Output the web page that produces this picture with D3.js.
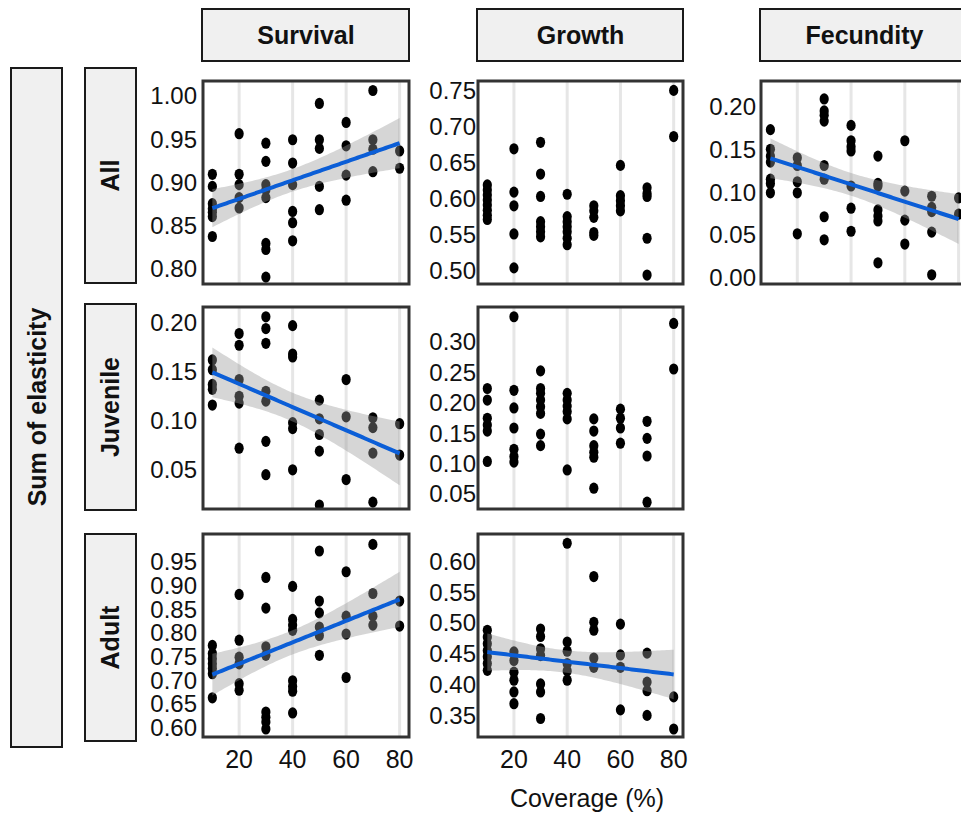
<!DOCTYPE html>
<html>
<head>
<meta charset="utf-8">
<script src="https://cdn.jsdelivr.net/npm/d3@7"></script>
<style>
  body { margin: 0; background: #fff; }
  text { font-family: "Liberation Sans", Arial, sans-serif; }
</style>
</head>
<body>
<svg id="chart"></svg>
<script>
// coverage levels (%) shared by every panel
var coverage = [10, 20, 30, 40, 50, 60, 70, 80];
var xTicks = [20, 40, 60, 80];

var colNames = ["Survival", "Growth", "Fecundity"];
var rowNames = ["All", "Juvenile", "Adult"];

// values per coverage level
var survAll = [
  [0.909, 0.895, 0.875, 0.869, 0.865, 0.860, 0.837],
  [0.956, 0.909, 0.897, 0.882, 0.870],
  [0.945, 0.924, 0.897, 0.891, 0.882, 0.829, 0.822, 0.790],
  [0.949, 0.922, 0.897, 0.866, 0.853, 0.832],
  [0.991, 0.949, 0.939, 0.895, 0.868],
  [0.969, 0.942, 0.908, 0.879],
  [1.006, 0.949, 0.938, 0.912],
  [0.936, 0.916]
];
var growthAll = [
  [0.619, 0.612, 0.605, 0.598, 0.591, 0.584, 0.577, 0.571],
  [0.669, 0.609, 0.590, 0.551, 0.504],
  [0.678, 0.634, 0.603, 0.568, 0.561, 0.554, 0.547],
  [0.606, 0.575, 0.568, 0.561, 0.554, 0.545, 0.536],
  [0.590, 0.583, 0.574, 0.553, 0.549],
  [0.646, 0.604, 0.597, 0.590, 0.583],
  [0.615, 0.607, 0.603, 0.545, 0.494],
  [0.750, 0.686]
];
var fecAll = [
  [0.173, 0.150, 0.142, 0.135, 0.115, 0.110, 0.099],
  [0.140, 0.131, 0.112, 0.099, 0.051],
  [0.209, 0.195, 0.190, 0.183, 0.131, 0.115, 0.071, 0.044],
  [0.178, 0.160, 0.153, 0.148, 0.107, 0.081, 0.054],
  [0.142, 0.110, 0.107, 0.079, 0.072, 0.066, 0.017],
  [0.160, 0.101, 0.067, 0.039],
  [0.095, 0.082, 0.077, 0.053, 0.003],
  [0.093, 0.074]
];
var survJuv = [
  [0.162, 0.152, 0.137, 0.132, 0.116],
  [0.189, 0.177, 0.142, 0.125, 0.118, 0.072],
  [0.206, 0.194, 0.179, 0.130, 0.120, 0.079, 0.045],
  [0.197, 0.168, 0.165, 0.098, 0.092, 0.050],
  [0.121, 0.102, 0.086, 0.069, 0.014],
  [0.142, 0.104, 0.040],
  [0.103, 0.093, 0.067, 0.017],
  [0.097, 0.065]
];
var growthJuv = [
  [0.223, 0.204, 0.174, 0.163, 0.153, 0.103],
  [0.341, 0.220, 0.191, 0.158, 0.123, 0.111, 0.102],
  [0.252, 0.223, 0.215, 0.204, 0.193, 0.182, 0.148, 0.129],
  [0.215, 0.204, 0.194, 0.185, 0.173, 0.089],
  [0.173, 0.153, 0.129, 0.118, 0.110, 0.059],
  [0.189, 0.174, 0.158, 0.133],
  [0.169, 0.141, 0.112, 0.036],
  [0.330, 0.255]
];
var survAdult = [
  [0.773, 0.756, 0.745, 0.734, 0.724, 0.713, 0.662],
  [0.881, 0.784, 0.748, 0.734, 0.692, 0.678],
  [0.917, 0.852, 0.770, 0.752, 0.632, 0.621, 0.611, 0.596],
  [0.898, 0.828, 0.816, 0.805, 0.698, 0.686, 0.676, 0.630],
  [0.973, 0.867, 0.842, 0.812, 0.794, 0.752],
  [0.929, 0.835, 0.797, 0.705],
  [0.987, 0.883, 0.835, 0.816],
  [0.867, 0.814]
];
var growthAdult = [
  [0.488, 0.477, 0.466, 0.455, 0.445, 0.434, 0.423],
  [0.453, 0.439, 0.420, 0.407, 0.388, 0.369],
  [0.490, 0.478, 0.458, 0.447, 0.401, 0.388, 0.345],
  [0.629, 0.469, 0.454, 0.434, 0.422, 0.407],
  [0.575, 0.501, 0.488, 0.443, 0.428],
  [0.498, 0.448, 0.428, 0.359],
  [0.451, 0.404, 0.390, 0.350],
  [0.380, 0.328]
];

// y tick labels per panel
var ticksSurvAll = [0.80, 0.85, 0.90, 0.95, 1.00];
var ticksGrowthAll = [0.50, 0.55, 0.60, 0.65, 0.70, 0.75];
var ticksFecAll = [0.00, 0.05, 0.10, 0.15, 0.20];
var ticksSurvJuv = [0.05, 0.10, 0.15, 0.20];
var ticksGrowthJuv = [0.05, 0.10, 0.15, 0.20, 0.25, 0.30];
var ticksSurvAdult = [0.60, 0.65, 0.70, 0.75, 0.80, 0.85, 0.90, 0.95];
var ticksGrowthAdult = [0.35, 0.40, 0.45, 0.50, 0.55, 0.60];

var svg = d3.select("#chart")
            .attr("width", 961)
            .attr("height", 815);

// panel frame positions
var colX = [[203, 409], [478, 683], [761, 968]];
var rowY = [[81, 284], [307, 509], [534, 737]];
var labelRight = [197, 476, 756];

var xDomain = [6.5, 83.5];

var panels = [
  {row: 0, col: 0, data: survAll, ticks: ticksSurvAll, domain: [0.782, 1.017], fit: true},
  {row: 0, col: 1, data: growthAll, ticks: ticksGrowthAll, domain: [0.4816, 0.763], fit: false},
  {row: 0, col: 2, data: fecAll, ticks: ticksFecAll, domain: [-0.0078, 0.230], fit: true},
  {row: 1, col: 0, data: survJuv, ticks: ticksSurvJuv, domain: [0.010, 0.216], fit: true},
  {row: 1, col: 1, data: growthJuv, ticks: ticksGrowthJuv, domain: [0.0248, 0.357], fit: false},
  {row: 2, col: 0, data: survAdult, ticks: ticksSurvAdult, domain: [0.579, 1.009], fit: true},
  {row: 2, col: 1, data: growthAdult, ticks: ticksGrowthAdult, domain: [0.315, 0.644], fit: true}
];

var clip = svg.append("defs");

// 95% t quantile, rough series expansion
function tQuant(df){
    var z = 1.959964;
    return z + (z*z*z + z)/(4*df) + (5*Math.pow(z,5) + 16*z*z*z + 3*z)/(96*df*df);
}

function linFit(pts){
    var n = pts.length;
    var mx = d3.mean(pts, d => d.x), my = d3.mean(pts, d => d.y);
    var sxx = d3.sum(pts, d => (d.x-mx)*(d.x-mx));
    var sxy = d3.sum(pts, d => (d.x-mx)*(d.y-my));
    var b = sxy/sxx, a = my - b*mx;
    var rss = d3.sum(pts, d => Math.pow(d.y - a - b*d.x, 2));
    var s = Math.sqrt(rss/(n-2));
    var t = tQuant(n-2);
    var lo = d3.min(pts, d => d.x), hi = d3.max(pts, d => d.x);
    var xs = d3.range(0, 81).map(i => lo + i*(hi - lo)/80);
    return xs.map(function(x){
        var fit = a + b*x;
        var se = s*Math.sqrt(1/n + (x-mx)*(x-mx)/sxx);
        return {x: x, y: fit, lo: fit - t*se, hi: fit + t*se};
    });
}

panels.forEach(function(p, k){
    var x0 = colX[p.col][0], x1 = colX[p.col][1];
    var y0 = rowY[p.row][0], y1 = rowY[p.row][1];

    var x = d3.scaleLinear().domain(xDomain).range([x0, x1]);
    var y = d3.scaleLinear().domain(p.domain).range([y1, y0]);

    var pts = [];
    p.data.forEach(function(vals, i){
        vals.forEach(function(v){ pts.push({x: coverage[i], y: v}); });
    });

    clip.append("clipPath").attr("id", "clip" + k)
        .append("rect")
        .attr("x", x0).attr("y", y0)
        .attr("width", x1 - x0).attr("height", y1 - y0);

    var g = svg.append("g");
    var inner = g.append("g").attr("clip-path", "url(#clip" + k + ")");

    // vertical grid only
    inner.selectAll(".grid")
        .data(xTicks)
        .enter()
        .append("line")
        .attr("x1", d => x(d)).attr("x2", d => x(d))
        .attr("y1", y0).attr("y2", y1)
        .attr("stroke", "#e6e6e6")
        .attr("stroke-width", 3);

    inner.selectAll(".pt")
        .data(pts)
        .enter()
        .append("ellipse")
        .attr("cx", d => x(d.x))
        .attr("cy", d => y(d.y))
        .attr("rx", 4.6)
        .attr("ry", 5.6)
        .attr("fill", "#000");

    if (p.fit){
        var line = linFit(pts);
        inner.append("path")
            .datum(line)
            .attr("d", d3.area().x(d => x(d.x)).y0(d => y(d.lo)).y1(d => y(d.hi)))
            .attr("fill", "#999999")
            .attr("fill-opacity", 0.4);
        inner.append("path")
            .datum(line)
            .attr("d", d3.line().x(d => x(d.x)).y(d => y(d.y)))
            .attr("fill", "none")
            .attr("stroke", "#0b5ed7")
            .attr("stroke-width", 4);
    }

    g.append("rect")
        .attr("x", x0).attr("y", y0)
        .attr("width", x1 - x0).attr("height", y1 - y0)
        .attr("fill", "none")
        .attr("stroke", "#333")
        .attr("stroke-width", 3);

    g.selectAll(".ytick")
        .data(p.ticks)
        .enter()
        .append("text")
        .attr("x", labelRight[p.col])
        .attr("y", d => y(d))
        .attr("dy", "0.36em")
        .attr("text-anchor", "end")
        .style("font-size", "24px")
        .style("fill", "#111")
        .text(d => d3.format(".2f")(d));

    if (p.row == 2){
        g.selectAll(".xtick")
            .data(xTicks)
            .enter()
            .append("text")
            .attr("x", d => x(d))
            .attr("y", 768)
            .attr("text-anchor", "middle")
            .style("font-size", "25px")
            .style("fill", "#111")
            .text(d => d);
    }
});

// column strips
colNames.forEach(function(name, i){
    svg.append("rect")
        .attr("x", colX[i][0] - 1).attr("y", 9)
        .attr("width", colX[i][1] - colX[i][0] + 1).attr("height", 52)
        .attr("fill", "#f0f0f0")
        .attr("stroke", "#1a1a1a")
        .attr("stroke-width", 2);
    svg.append("text")
        .attr("x", (colX[i][0] + colX[i][1]) / 2)
        .attr("y", 35)
        .attr("dy", "0.36em")
        .attr("text-anchor", "middle")
        .style("font-size", "25px")
        .style("font-weight", "bold")
        .style("fill", "#111")
        .text(name);
});

// row strips
var rowStrip = [[68, 283], [304, 510], [534, 741]];
rowNames.forEach(function(name, i){
    svg.append("rect")
        .attr("x", 85).attr("y", rowStrip[i][0])
        .attr("width", 51).attr("height", rowStrip[i][1] - rowStrip[i][0])
        .attr("fill", "#f0f0f0")
        .attr("stroke", "#1a1a1a")
        .attr("stroke-width", 2);
    var cy = (rowStrip[i][0] + rowStrip[i][1]) / 2;
    svg.append("text")
        .attr("transform", "translate(110," + cy + ") rotate(-90)")
        .attr("dy", "0.36em")
        .attr("text-anchor", "middle")
        .style("font-size", "25px")
        .style("font-weight", "bold")
        .style("fill", "#111")
        .text(name);
});

// outer y label strip
svg.append("rect")
    .attr("x", 11).attr("y", 68)
    .attr("width", 51).attr("height", 679)
    .attr("fill", "#f0f0f0")
    .attr("stroke", "#1a1a1a")
    .attr("stroke-width", 2);
svg.append("text")
    .attr("transform", "translate(36.5,407) rotate(-90)")
    .attr("dy", "0.36em")
    .attr("text-anchor", "middle")
    .style("font-size", "25px")
    .style("font-weight", "bold")
    .style("fill", "#111")
    .text("Sum of elasticity");

svg.append("text")
    .attr("x", 587)
    .attr("y", 807)
    .attr("text-anchor", "middle")
    .style("font-size", "25px")
    .style("fill", "#111")
    .text("Coverage (%)");
</script>
</body>
</html>
